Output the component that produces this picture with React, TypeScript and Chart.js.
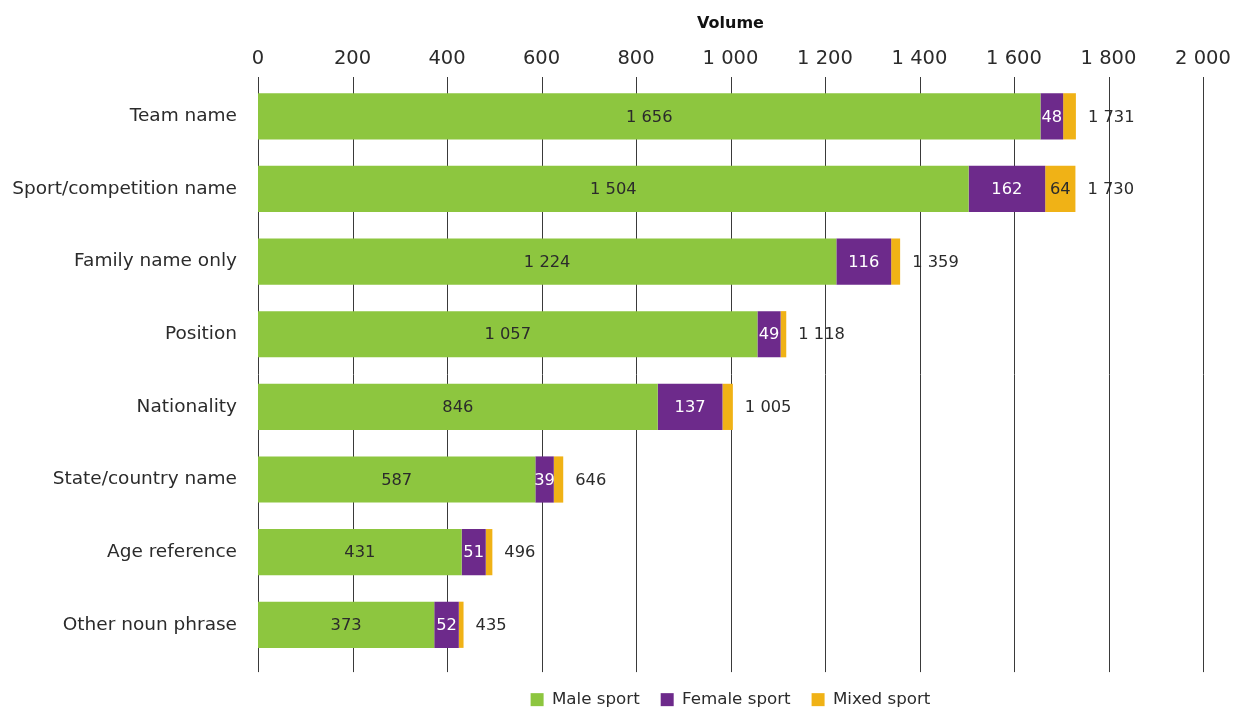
import React, { useEffect, useRef } from "react";
import { Chart, registerables } from "chart.js";

Chart.register(...registerables);

const categories = [
  "Team name",
  "Sport/competition name",
  "Family name only",
  "Position",
  "Nationality",
  "State/country name",
  "Age reference",
  "Other noun phrase",
];
const maleSport = [1656, 1504, 1224, 1057, 846, 587, 431, 373];
const femaleSport = [48, 162, 116, 49, 137, 39, 51, 52];
const mixedSport = [27, 64, 19, 12, 22, 20, 14, 10];
const seriesNames = ["Male sport", "Female sport", "Mixed sport"];
const seriesColors = ["#8DC63F", "#6D2A8B", "#F0B216"];
const xTicksMax = 2000;
const xTickStep = 200;

const FONT = "'DejaVu Sans', sans-serif";
const fmt = (n: number) => String(n).replace(/\B(?=(\d{3})+(?!\d))/g, " ");

const gridPlugin = {
  id: "customGrid",
  afterLayout(chart: any) {
    // centre the legend under the plot area rather than the canvas
    const lg = chart.legend;
    if (lg) {
      lg.left = chart.chartArea.left;
      lg.right = chart.chartArea.right;
    }
  },
  beforeDatasetsDraw(chart: any) {
    const { ctx, chartArea, scales } = chart;
    const xs = scales.x;
    ctx.save();
    ctx.strokeStyle = "#3a3a3a";
    ctx.lineWidth = 1;
    xs.ticks.forEach((t: any) => {
      const px = Math.round(xs.getPixelForValue(t.value)) + 0.5;
      ctx.beginPath();
      ctx.moveTo(px, chartArea.top - 3);
      ctx.lineTo(px, chartArea.bottom + 11);
      ctx.stroke();
    });
    ctx.restore();
  },
};

const labelPlugin = {
  id: "barLabels",
  afterDatasetsDraw(chart: any) {
    const { ctx } = chart;
    ctx.save();
    ctx.font = `16.3px ${FONT}`;
    ctx.textBaseline = "middle";
    const n = chart.data.datasets.length;
    chart.data.datasets.forEach((ds: any, i: number) => {
      const meta = chart.getDatasetMeta(i);
      meta.data.forEach((el: any, j: number) => {
        const w = Math.abs(el.x - el.base);
        if (w > 15) {
          ctx.textAlign = "center";
          ctx.fillStyle = i === 1 ? "#ffffff" : "#2b2b2b";
          ctx.fillText(fmt(ds.data[j]), (el.x + el.base) / 2, el.y + 1);
        }
        if (i === n - 1) {
          let total = 0;
          chart.data.datasets.forEach((d: any) => (total += d.data[j]));
          ctx.textAlign = "left";
          ctx.fillStyle = "#2b2b2b";
          ctx.fillText(fmt(total), el.x + 12, el.y + 1);
        }
      });
    });
    ctx.restore();
  },
};

export default function App() {
  const ref = useRef<HTMLCanvasElement>(null);
  useEffect(() => {
    if (!ref.current) return;
    const seriesData = [maleSport, femaleSport, mixedSport];
    const chart = new Chart(ref.current, {
      type: "bar",
      data: {
        labels: categories,
        datasets: seriesData.map((d, i) => ({
          label: seriesNames[i],
          data: d,
          backgroundColor: seriesColors[i],
          borderWidth: 0,
          categoryPercentage: 0.8,
          barPercentage: 0.795,
        })),
      },
      options: {
        indexAxis: "y",
        responsive: false,
        animation: false,
        layout: { padding: { left: 0, right: 38, top: 0, bottom: 0 } },
        scales: {
          x: {
            position: "top",
            stacked: true,
            min: 0,
            max: xTicksMax,
            grid: { display: false, drawTicks: false },
            border: { display: false },
            ticks: {
              stepSize: xTickStep,
              padding: 9,
              color: "#2b2b2b",
              font: { family: FONT, size: 19.5 },
              callback: (v: any) => fmt(Number(v)),
            },
            title: {
              display: true,
              text: "Volume",
              color: "#111",
              font: { family: FONT, size: 16, weight: "bold" },
              padding: { top: 14, bottom: 0 },
            },
            afterFit: (s: any) => {
              s.height = 80;
            },
          },
          y: {
            stacked: true,
            grid: { display: false, drawTicks: false },
            border: { display: false },
            ticks: {
              padding: 21,
              color: "#2b2b2b",
              font: { family: FONT, size: 18.5 },
            },
            afterFit: (s: any) => {
              s.width = 258;
            },
          },
        },
        plugins: {
          legend: {
            position: "bottom",
            title: { display: true, text: "", font: { size: 1 }, padding: { top: 0, bottom: 8 } },
            labels: {
              boxWidth: 13,
              boxHeight: 13,
              padding: 21,
              color: "#2b2b2b",
              font: { family: FONT, size: 16.7 },
            },
          },
          tooltip: { enabled: false },
        },
      },
      plugins: [gridPlugin, labelPlugin],
    });
    return () => chart.destroy();
  }, []);
  return (
    <div
      style={{
        position: "fixed",
        left: 0,
        top: 0,
        width: 1241,
        height: 708,
        overflow: "hidden",
        background: "#fff",
      }}
    >
      <canvas ref={ref} width={1241} height={718} style={{ display: "block" }} />
    </div>
  );
}
